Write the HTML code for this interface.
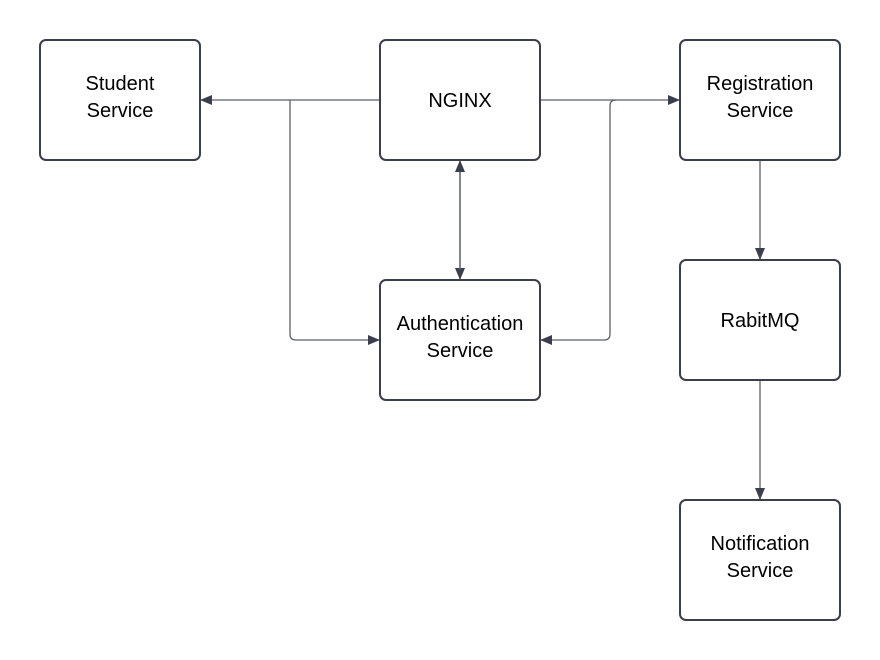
<!DOCTYPE html>
<html><head><meta charset="utf-8"><style>
html,body{margin:0;padding:0;background:#fff;width:880px;height:660px;overflow:hidden}
svg{display:block}
text{font-family:"Liberation Sans",sans-serif;font-size:20px;fill:#000}
</style></head><body>
<svg width="880" height="660" viewBox="0 0 880 660">
<defs>
<marker id="a" markerWidth="12" markerHeight="10" refX="12" refY="5" orient="auto" markerUnits="userSpaceOnUse">
<path d="M0,0 L12,5 L0,10 Z" fill="#3a3f4b"/>
</marker>
</defs>
<g fill="none" stroke="#5a5f6b" stroke-width="1.3">
<path d="M380,100 H200" marker-end="url(#a)"/>
<path d="M290,100 Q290,100 290,106 V334 Q290,340 296,340 H380" marker-end="url(#a)"/>
<path d="M540,100 H680" marker-end="url(#a)"/>
<path d="M610,106 V334 Q610,340 604,340 H540" marker-end="url(#a)"/>
<path d="M616,100 Q610,100 610,106"/>
<path d="M460,170 V280" marker-end="url(#a)"/>
<path d="M460,270 V160" marker-end="url(#a)"/>
<path d="M760,160 V260" marker-end="url(#a)"/>
<path d="M760,380 V500" marker-end="url(#a)"/>
</g>
<g fill="#fff" stroke="#3a3f4b" stroke-width="2">
<rect x="40" y="40" width="160" height="120" rx="6"/>
<rect x="380" y="40" width="160" height="120" rx="6"/>
<rect x="680" y="40" width="160" height="120" rx="6"/>
<rect x="380" y="280" width="160" height="120" rx="6"/>
<rect x="680" y="260" width="160" height="120" rx="6"/>
<rect x="680" y="500" width="160" height="120" rx="6"/>
</g>
<g text-anchor="middle">
<text x="120" y="90">Student</text><text x="120" y="117">Service</text>
<text x="460" y="107">NGINX</text>
<text x="760" y="90">Registration</text><text x="760" y="117">Service</text>
<text x="460" y="330">Authentication</text><text x="460" y="357">Service</text>
<text x="760" y="327">RabitMQ</text>
<text x="760" y="550">Notification</text><text x="760" y="577">Service</text>
</g>
</svg>
</body></html>
